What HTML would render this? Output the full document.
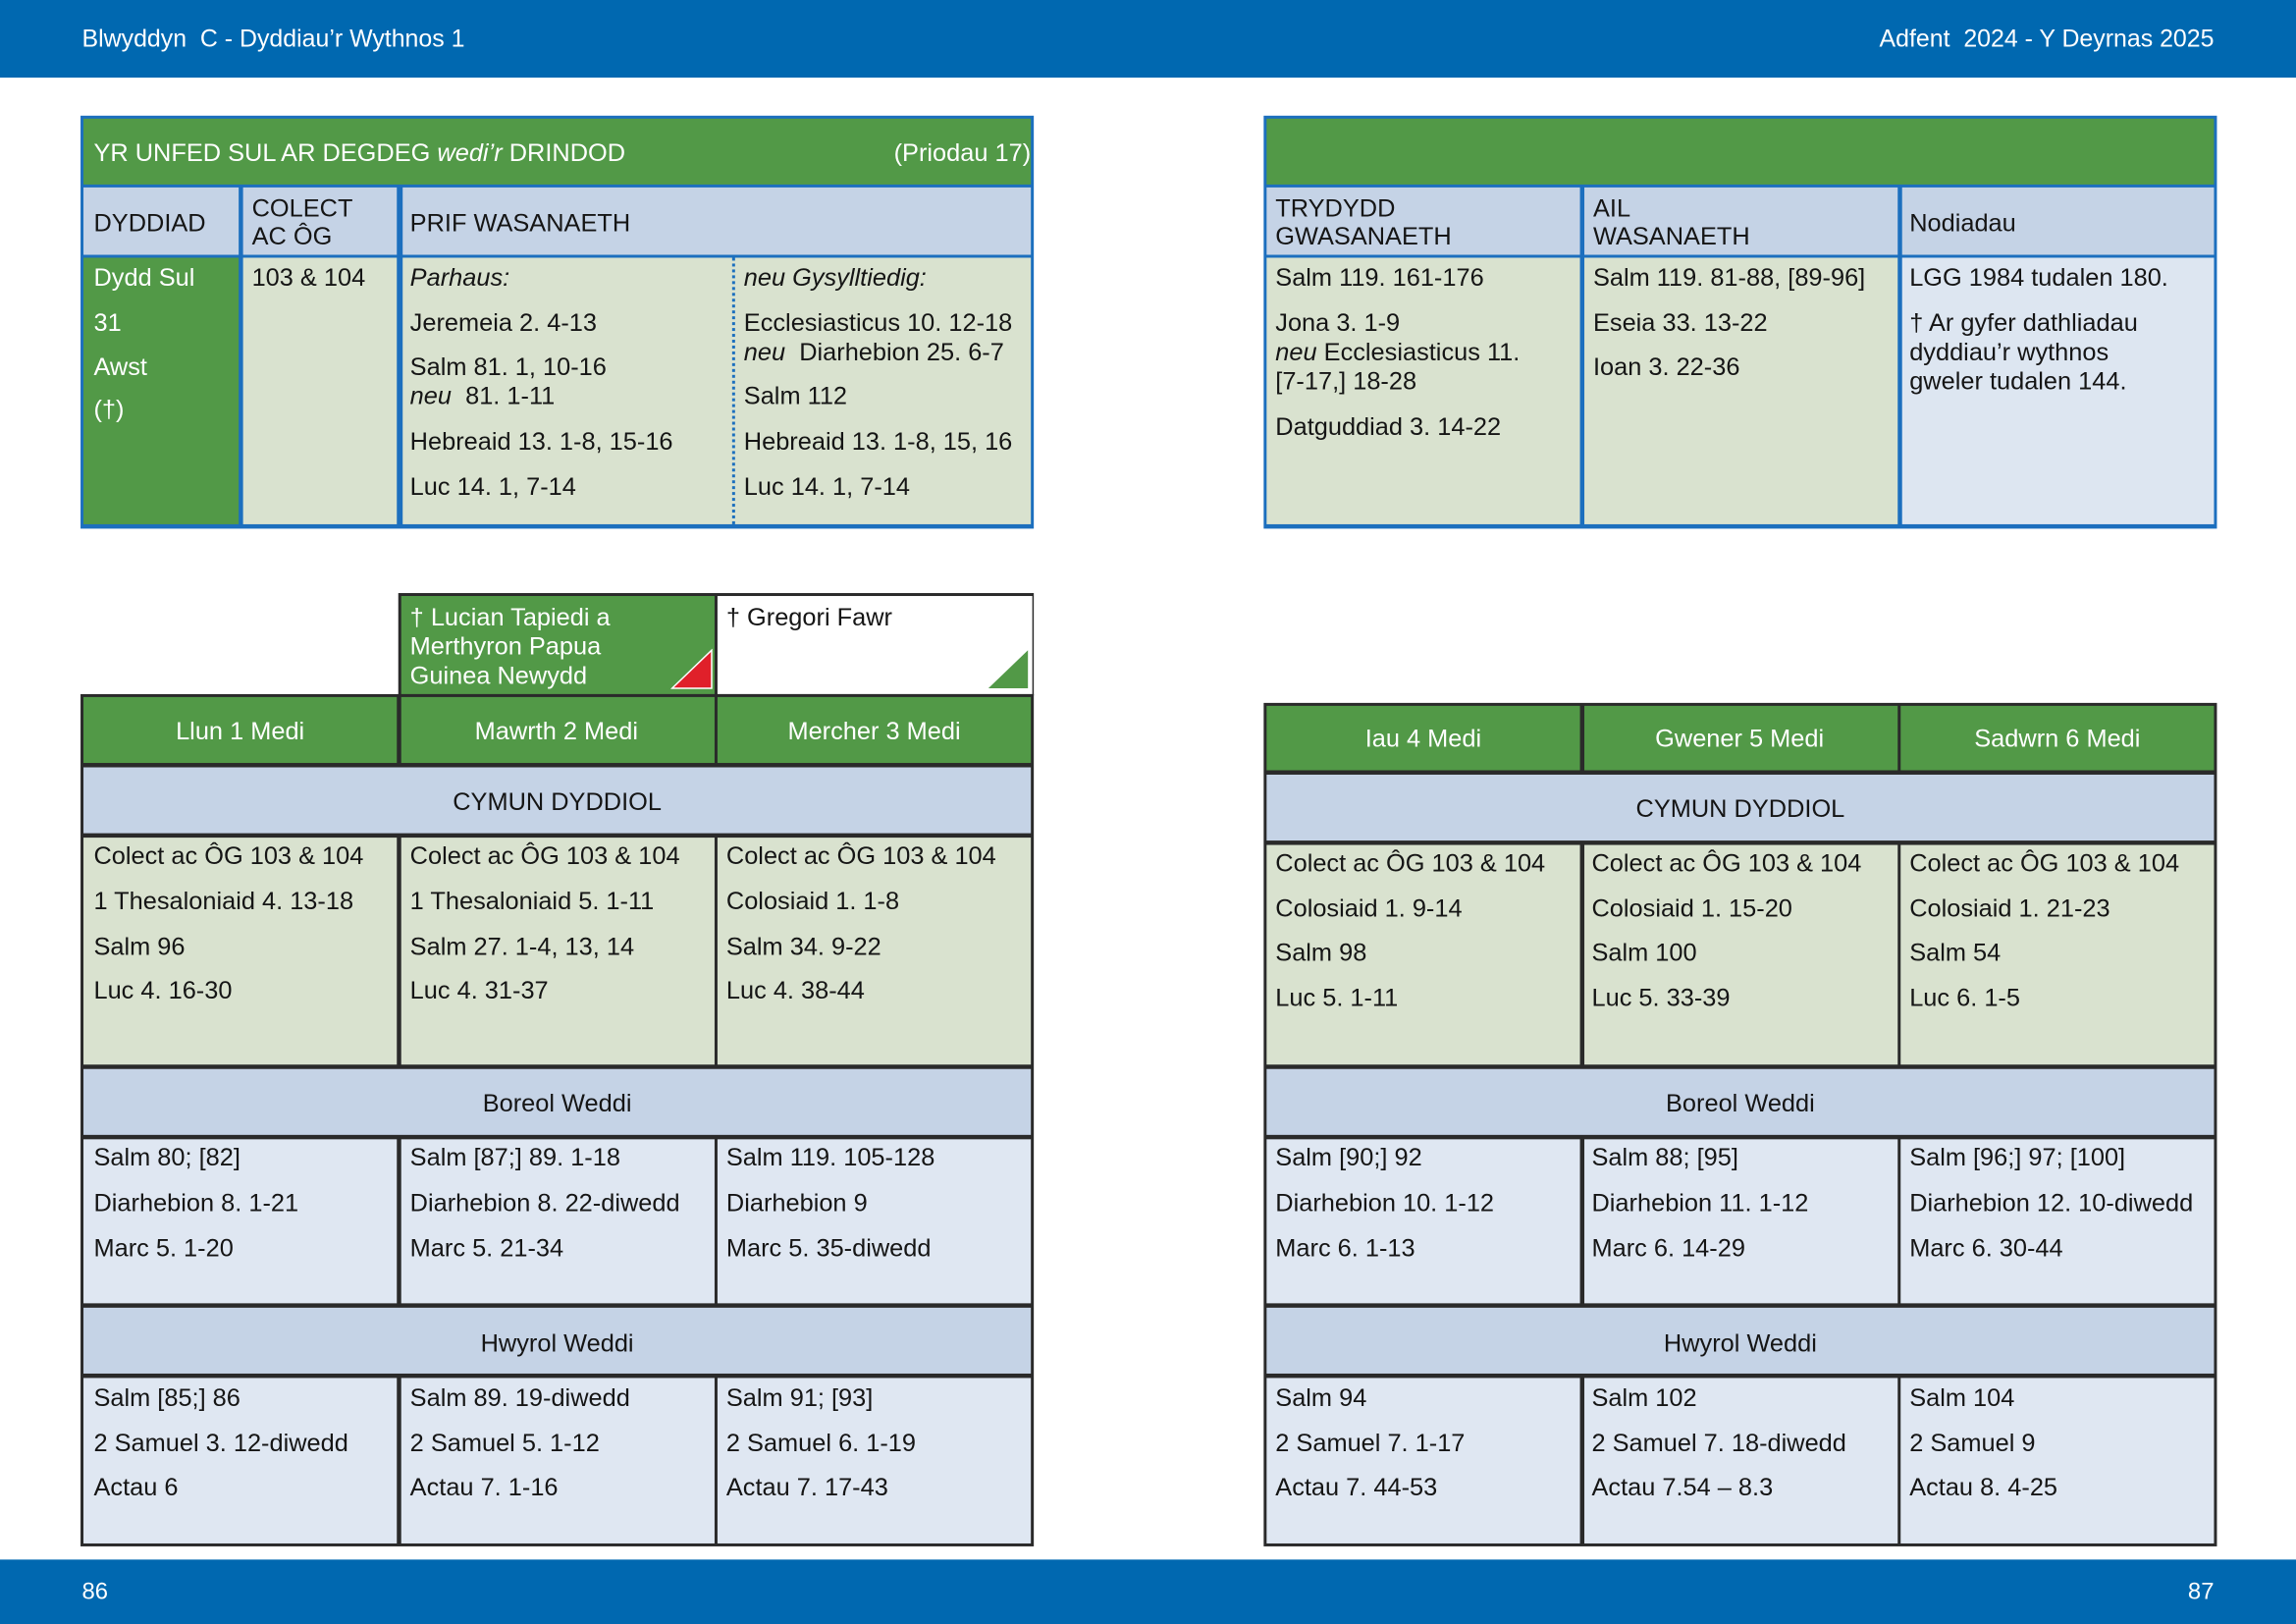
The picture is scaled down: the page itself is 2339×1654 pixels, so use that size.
<!DOCTYPE html>
<html><head><meta charset="utf-8"><style>
html,body{margin:0;padding:0;width:2339px;height:1654px;overflow:hidden;background:#fff}
#w{position:absolute;left:0;top:0;width:1568px;height:1109px;transform:scale(1.49171,1.49143);transform-origin:0 0;font-family:"Liberation Sans",Arial,sans-serif;color:#151515}
.b{position:absolute;box-sizing:border-box}
.t{position:absolute;font-size:17px;line-height:18px;white-space:nowrap;margin-top:2px}
.w{color:#fff}
.c{text-align:center}
i{font-style:italic}
</style></head><body><div id="w">
<!-- header / footer -->
<div class="b" style="left:0;top:0;width:1568px;height:53px;background:#0068b0"></div>
<div class="t w" style="left:56px;top:16px;font-size:16.7px">Blwyddyn&nbsp; C - Dyddiau’r Wythnos 1</div>
<div class="t w" style="right:56px;top:16px;font-size:16.7px">Adfent&nbsp; 2024 - Y Deyrnas 2025</div>
<div class="b" style="left:0;top:1065px;width:1568px;height:44px;background:#0068b0"></div>
<div class="t w" style="left:56px;top:1077px;font-size:16px">86</div>
<div class="t w" style="right:56px;top:1077px;font-size:16px">87</div>

<!-- top-left table -->
<div class="b" style="left:55px;top:79px;width:651px;height:282px;background:#1c6fbe"></div>
<div class="b" style="left:57px;top:81px;width:647px;height:45px;background:#529947"></div>
<div class="b" style="left:57px;top:128px;width:106px;height:46px;background:#c5d3e6"></div>
<div class="b" style="left:166px;top:128px;width:105px;height:46px;background:#c5d3e6"></div>
<div class="b" style="left:275px;top:128px;width:429px;height:46px;background:#c5d3e6"></div>
<div class="b" style="left:57px;top:176px;width:106px;height:182px;background:#529947"></div>
<div class="b" style="left:166px;top:176px;width:105px;height:182px;background:#d9e2cf"></div>
<div class="b" style="left:275px;top:176px;width:429px;height:182px;background:#d9e2cf"></div>
<div class="b" style="left:500px;top:176px;width:0;height:182px;border-left:2px dotted #1c6fbe"></div>
<div class="t w" style="left:64px;top:94px">YR UNFED SUL AR DEGDEG <i>wedi’r</i> DRINDOD</div>
<div class="t w" style="right:864px;top:94px">(Priodau 17)</div>
<div class="t" style="left:64px;top:142px">DYDDIAD</div>
<div class="t" style="left:172px;top:132px">COLECT</div>
<div class="t" style="left:172px;top:151px">AC ÔG</div>
<div class="t" style="left:280px;top:142px">PRIF WASANAETH</div>
<div class="t w" style="left:64px;top:179px">Dydd Sul</div>
<div class="t w" style="left:64px;top:210px">31</div>
<div class="t w" style="left:64px;top:240px">Awst</div>
<div class="t w" style="left:64px;top:269px">(†)</div>
<div class="t" style="left:172px;top:179px">103 &amp; 104</div>
<div class="t" style="left:280px;top:179px"><i>Parhaus:</i></div>
<div class="t" style="left:280px;top:210px">Jeremeia 2. 4-13</div>
<div class="t" style="left:280px;top:240px">Salm 81. 1, 10-16</div>
<div class="t" style="left:280px;top:260px"><i>neu</i>&nbsp; 81. 1-11</div>
<div class="t" style="left:280px;top:291px">Hebreaid 13. 1-8, 15-16</div>
<div class="t" style="left:280px;top:322px">Luc 14. 1, 7-14</div>
<div class="t" style="left:508px;top:179px"><i>neu Gysylltiedig:</i></div>
<div class="t" style="left:508px;top:210px">Ecclesiasticus 10. 12-18</div>
<div class="t" style="left:508px;top:230px"><i>neu</i>&nbsp; Diarhebion 25. 6-7</div>
<div class="t" style="left:508px;top:260px">Salm 112</div>
<div class="t" style="left:508px;top:291px">Hebreaid 13. 1-8, 15, 16</div>
<div class="t" style="left:508px;top:322px">Luc 14. 1, 7-14</div>

<!-- top-right table -->
<div class="b" style="left:863px;top:79px;width:651px;height:282px;background:#1c6fbe"></div>
<div class="b" style="left:865px;top:81px;width:647px;height:45px;background:#529947"></div>
<div class="b" style="left:865px;top:128px;width:214px;height:46px;background:#c5d3e6"></div>
<div class="b" style="left:1082px;top:128px;width:214px;height:46px;background:#c5d3e6"></div>
<div class="b" style="left:1299px;top:128px;width:213px;height:46px;background:#c5d3e6"></div>
<div class="b" style="left:865px;top:176px;width:214px;height:182px;background:#d9e2cf"></div>
<div class="b" style="left:1082px;top:176px;width:214px;height:182px;background:#d9e2cf"></div>
<div class="b" style="left:1299px;top:176px;width:213px;height:182px;background:#dde6f1"></div>
<div class="t" style="left:871px;top:132px">TRYDYDD</div>
<div class="t" style="left:871px;top:151px">GWASANAETH</div>
<div class="t" style="left:1088px;top:132px">AIL</div>
<div class="t" style="left:1088px;top:151px">WASANAETH</div>
<div class="t" style="left:1304px;top:142px">Nodiadau</div>
<div class="t" style="left:871px;top:179px">Salm 119. 161-176</div>
<div class="t" style="left:871px;top:210px">Jona 3. 1-9</div>
<div class="t" style="left:871px;top:230px"><i>neu</i> Ecclesiasticus 11.</div>
<div class="t" style="left:871px;top:250px">[7-17,] 18-28</div>
<div class="t" style="left:871px;top:281px">Datguddiad 3. 14-22</div>
<div class="t" style="left:1088px;top:179px">Salm 119. 81-88, [89-96]</div>
<div class="t" style="left:1088px;top:210px">Eseia 33. 13-22</div>
<div class="t" style="left:1088px;top:240px">Ioan 3. 22-36</div>
<div class="t" style="left:1304px;top:179px">LGG 1984 tudalen 180.</div>
<div class="t" style="left:1304px;top:210px">† Ar gyfer dathliadau</div>
<div class="t" style="left:1304px;top:230px">dyddiau’r wythnos</div>
<div class="t" style="left:1304px;top:250px">gweler tudalen 144.</div>

<!-- feast boxes -->
<div class="b" style="left:272px;top:405px;width:434px;height:70px;background:#2a2a2a"></div>
<div class="b" style="left:273.5px;top:406.5px;width:214px;height:67px;background:#529947"></div>
<div class="b" style="left:489.5px;top:406.5px;width:215px;height:67px;background:#fff"></div>
<svg class="b" style="left:458px;top:443px" width="29" height="28"><polygon points="1,27 28,27 28,1" fill="#e0202a" stroke="#fff" stroke-width="1"/></svg>
<svg class="b" style="left:674px;top:443px" width="29" height="28"><polygon points="1,27 28,27 28,1" fill="#529947"/></svg>
<div class="t w" style="left:280px;top:411px">† Lucian Tapiedi a</div>
<div class="t w" style="left:280px;top:431px">Merthyron Papua</div>
<div class="t w" style="left:280px;top:451px">Guinea Newydd</div>
<div class="t" style="left:496px;top:411px">† Gregori Fawr</div>

<!-- bottom-left table -->
<div class="b" style="left:55px;top:474px;width:651px;height:582px;background:#2a2a2a"></div>
<div class="b" style="left:57px;top:476px;width:214px;height:45px;background:#529947"></div>
<div class="b" style="left:273.5px;top:476px;width:214px;height:45px;background:#529947"></div>
<div class="b" style="left:490px;top:476px;width:214px;height:45px;background:#529947"></div>
<div class="b" style="left:57px;top:524px;width:647px;height:45px;background:#c5d3e6"></div>
<div class="b" style="left:57px;top:572px;width:214px;height:155px;background:#d9e2cf"></div>
<div class="b" style="left:273.5px;top:572px;width:214px;height:155px;background:#d9e2cf"></div>
<div class="b" style="left:490px;top:572px;width:214px;height:155px;background:#d9e2cf"></div>
<div class="b" style="left:57px;top:730px;width:647px;height:45px;background:#c5d3e6"></div>
<div class="b" style="left:57px;top:778px;width:214px;height:112px;background:#dfe7f2"></div>
<div class="b" style="left:273.5px;top:778px;width:214px;height:112px;background:#dfe7f2"></div>
<div class="b" style="left:490px;top:778px;width:214px;height:112px;background:#dfe7f2"></div>
<div class="b" style="left:57px;top:893px;width:647px;height:45px;background:#c5d3e6"></div>
<div class="b" style="left:57px;top:941px;width:214px;height:113px;background:#dfe7f2"></div>
<div class="b" style="left:273.5px;top:941px;width:214px;height:113px;background:#dfe7f2"></div>
<div class="b" style="left:490px;top:941px;width:214px;height:113px;background:#dfe7f2"></div>
<div class="t w c" style="left:57px;width:214px;top:489px">Llun 1 Medi</div>
<div class="t w c" style="left:273px;width:214px;top:489px">Mawrth 2 Medi</div>
<div class="t w c" style="left:490px;width:214px;top:489px">Mercher 3 Medi</div>
<div class="t c" style="left:57px;width:647px;top:537px">CYMUN DYDDIOL</div>
<div class="t c" style="left:57px;width:647px;top:743px">Boreol Weddi</div>
<div class="t c" style="left:57px;width:647px;top:907px">Hwyrol Weddi</div>
<div class="t" style="left:64px;top:574px">Colect ac ÔG 103 &amp; 104</div>
<div class="t" style="left:64px;top:605px">1 Thesaloniaid 4. 13-18</div>
<div class="t" style="left:64px;top:636px">Salm 96</div>
<div class="t" style="left:64px;top:666px">Luc 4. 16-30</div>
<div class="t" style="left:280px;top:574px">Colect ac ÔG 103 &amp; 104</div>
<div class="t" style="left:280px;top:605px">1 Thesaloniaid 5. 1-11</div>
<div class="t" style="left:280px;top:636px">Salm 27. 1-4, 13, 14</div>
<div class="t" style="left:280px;top:666px">Luc 4. 31-37</div>
<div class="t" style="left:496px;top:574px">Colect ac ÔG 103 &amp; 104</div>
<div class="t" style="left:496px;top:605px">Colosiaid 1. 1-8</div>
<div class="t" style="left:496px;top:636px">Salm 34. 9-22</div>
<div class="t" style="left:496px;top:666px">Luc 4. 38-44</div>
<div class="t" style="left:64px;top:780px">Salm 80; [82]</div>
<div class="t" style="left:64px;top:811px">Diarhebion 8. 1-21</div>
<div class="t" style="left:64px;top:842px">Marc 5. 1-20</div>
<div class="t" style="left:280px;top:780px">Salm [87;] 89. 1-18</div>
<div class="t" style="left:280px;top:811px">Diarhebion 8. 22-diwedd</div>
<div class="t" style="left:280px;top:842px">Marc 5. 21-34</div>
<div class="t" style="left:496px;top:780px">Salm 119. 105-128</div>
<div class="t" style="left:496px;top:811px">Diarhebion 9</div>
<div class="t" style="left:496px;top:842px">Marc 5. 35-diwedd</div>
<div class="t" style="left:64px;top:944px">Salm [85;] 86</div>
<div class="t" style="left:64px;top:975px">2 Samuel 3. 12-diwedd</div>
<div class="t" style="left:64px;top:1005px">Actau 6</div>
<div class="t" style="left:280px;top:944px">Salm 89. 19-diwedd</div>
<div class="t" style="left:280px;top:975px">2 Samuel 5. 1-12</div>
<div class="t" style="left:280px;top:1005px">Actau 7. 1-16</div>
<div class="t" style="left:496px;top:944px">Salm 91; [93]</div>
<div class="t" style="left:496px;top:975px">2 Samuel 6. 1-19</div>
<div class="t" style="left:496px;top:1005px">Actau 7. 17-43</div>

<!-- bottom-right table -->
<div class="b" style="left:863px;top:480px;width:651px;height:576px;background:#2a2a2a"></div>
<div class="b" style="left:865px;top:482px;width:214px;height:44px;background:#529947"></div>
<div class="b" style="left:1081.5px;top:482px;width:214px;height:44px;background:#529947"></div>
<div class="b" style="left:1298px;top:482px;width:214px;height:44px;background:#529947"></div>
<div class="b" style="left:865px;top:529px;width:647px;height:45px;background:#c5d3e6"></div>
<div class="b" style="left:865px;top:577px;width:214px;height:150px;background:#d9e2cf"></div>
<div class="b" style="left:1081.5px;top:577px;width:214px;height:150px;background:#d9e2cf"></div>
<div class="b" style="left:1298px;top:577px;width:214px;height:150px;background:#d9e2cf"></div>
<div class="b" style="left:865px;top:730px;width:647px;height:45px;background:#c5d3e6"></div>
<div class="b" style="left:865px;top:778px;width:214px;height:112px;background:#dfe7f2"></div>
<div class="b" style="left:1081.5px;top:778px;width:214px;height:112px;background:#dfe7f2"></div>
<div class="b" style="left:1298px;top:778px;width:214px;height:112px;background:#dfe7f2"></div>
<div class="b" style="left:865px;top:893px;width:647px;height:45px;background:#c5d3e6"></div>
<div class="b" style="left:865px;top:941px;width:214px;height:113px;background:#dfe7f2"></div>
<div class="b" style="left:1081.5px;top:941px;width:214px;height:113px;background:#dfe7f2"></div>
<div class="b" style="left:1298px;top:941px;width:214px;height:113px;background:#dfe7f2"></div>
<div class="t w c" style="left:865px;width:214px;top:494px">Iau 4 Medi</div>
<div class="t w c" style="left:1081px;width:214px;top:494px">Gwener 5 Medi</div>
<div class="t w c" style="left:1298px;width:214px;top:494px">Sadwrn 6 Medi</div>
<div class="t c" style="left:865px;width:647px;top:542px">CYMUN DYDDIOL</div>
<div class="t c" style="left:865px;width:647px;top:743px">Boreol Weddi</div>
<div class="t c" style="left:865px;width:647px;top:907px">Hwyrol Weddi</div>
<div class="t" style="left:871px;top:579px">Colect ac ÔG 103 &amp; 104</div>
<div class="t" style="left:871px;top:610px">Colosiaid 1. 9-14</div>
<div class="t" style="left:871px;top:640px">Salm 98</div>
<div class="t" style="left:871px;top:671px">Luc 5. 1-11</div>
<div class="t" style="left:1087px;top:579px">Colect ac ÔG 103 &amp; 104</div>
<div class="t" style="left:1087px;top:610px">Colosiaid 1. 15-20</div>
<div class="t" style="left:1087px;top:640px">Salm 100</div>
<div class="t" style="left:1087px;top:671px">Luc 5. 33-39</div>
<div class="t" style="left:1304px;top:579px">Colect ac ÔG 103 &amp; 104</div>
<div class="t" style="left:1304px;top:610px">Colosiaid 1. 21-23</div>
<div class="t" style="left:1304px;top:640px">Salm 54</div>
<div class="t" style="left:1304px;top:671px">Luc 6. 1-5</div>
<div class="t" style="left:871px;top:780px">Salm [90;] 92</div>
<div class="t" style="left:871px;top:811px">Diarhebion 10. 1-12</div>
<div class="t" style="left:871px;top:842px">Marc 6. 1-13</div>
<div class="t" style="left:1087px;top:780px">Salm 88; [95]</div>
<div class="t" style="left:1087px;top:811px">Diarhebion 11. 1-12</div>
<div class="t" style="left:1087px;top:842px">Marc 6. 14-29</div>
<div class="t" style="left:1304px;top:780px">Salm [96;] 97; [100]</div>
<div class="t" style="left:1304px;top:811px">Diarhebion 12. 10-diwedd</div>
<div class="t" style="left:1304px;top:842px">Marc 6. 30-44</div>
<div class="t" style="left:871px;top:944px">Salm 94</div>
<div class="t" style="left:871px;top:975px">2 Samuel 7. 1-17</div>
<div class="t" style="left:871px;top:1005px">Actau 7. 44-53</div>
<div class="t" style="left:1087px;top:944px">Salm 102</div>
<div class="t" style="left:1087px;top:975px">2 Samuel 7. 18-diwedd</div>
<div class="t" style="left:1087px;top:1005px">Actau 7.54 – 8.3</div>
<div class="t" style="left:1304px;top:944px">Salm 104</div>
<div class="t" style="left:1304px;top:975px">2 Samuel 9</div>
<div class="t" style="left:1304px;top:1005px">Actau 8. 4-25</div>
</div></body></html>
